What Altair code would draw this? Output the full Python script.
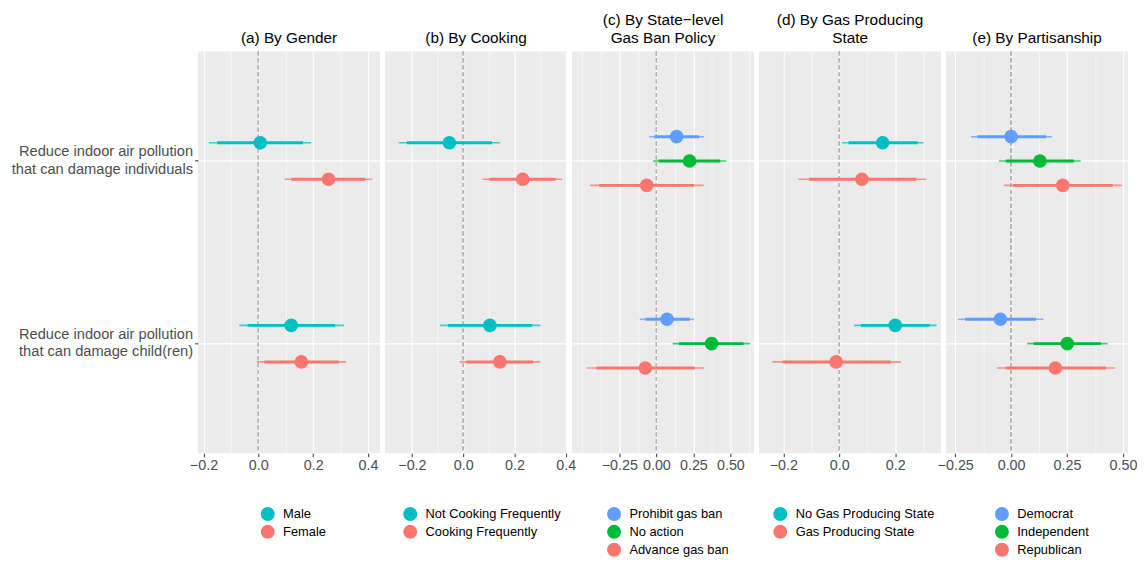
import altair as alt
import pandas as pd

FONT = "Liberation Sans"

outcomes = ["Reduce indoor air pollution\nthat can damage individuals",
            "Reduce indoor air pollution\nthat can damage child(ren)"]

# ---- (a) By Gender ----
a_groups = ["Male", "Female"]
a_est  = [[0.007, 0.256], [0.120, 0.157]]
a_lo95 = [[-0.180, 0.096], [-0.069, -0.005]]
a_hi95 = [[0.193, 0.416], [0.312, 0.320]]
a_lo90 = [[-0.150, 0.121], [-0.039, 0.022]]
a_hi90 = [[0.163, 0.390], [0.280, 0.293]]

# ---- (b) By Cooking ----
b_groups = ["Not Cooking Frequently", "Cooking Frequently"]
b_est  = [[-0.054, 0.232], [0.104, 0.143]]
b_lo95 = [[-0.252, 0.076], [-0.090, -0.014]]
b_hi95 = [[0.144, 0.386], [0.301, 0.301]]
b_lo90 = [[-0.220, 0.102], [-0.059, 0.013]]
b_hi90 = [[0.112, 0.360], [0.269, 0.273]]

# ---- (c) By State-level Gas Ban Policy ----
c_groups = ["Prohibit gas ban", "No action", "Advance gas ban"]
c_est  = [[0.137, 0.224, -0.065], [0.072, 0.373, -0.075]]
c_lo95 = [[-0.048, -0.023, -0.449], [-0.112, 0.110, -0.471]]
c_hi95 = [[0.322, 0.471, 0.319], [0.255, 0.633, 0.322]]
c_lo90 = [[-0.015, 0.015, -0.386], [-0.075, 0.152, -0.404]]
c_hi90 = [[0.289, 0.431, 0.255], [0.226, 0.589, 0.259]]

# ---- (d) By Gas Producing State ----
d_groups = ["No Gas Producing State", "Gas Producing State"]
d_est  = [[0.155, 0.081], [0.200, -0.011]]
d_lo95 = [[0.010, -0.147], [0.053, -0.239]]
d_hi95 = [[0.301, 0.310], [0.348, 0.221]]
d_lo90 = [[0.033, -0.108], [0.077, -0.203]]
d_hi90 = [[0.280, 0.275], [0.323, 0.183]]

# ---- (e) By Partisanship ----
e_groups = ["Democrat", "Independent", "Republican"]
e_est  = [[0.000, 0.129, 0.231], [-0.048, 0.251, 0.198]]
e_lo95 = [[-0.179, -0.054, -0.032], [-0.238, 0.072, -0.064]]
e_hi95 = [[0.182, 0.311, 0.495], [0.144, 0.431, 0.465]]
e_lo90 = [[-0.151, -0.024, 0.008], [-0.206, 0.101, -0.024]]
e_hi90 = [[0.156, 0.281, 0.454], [0.111, 0.402, 0.424]]

TEAL, RED, BLUE, GREEN = "#00BFC4", "#F8766D", "#619CFF", "#00BA38"

panels = [
    dict(title=["", "(a) By Gender"], groups=a_groups, colors=[TEAL, RED],
         est=a_est, lo95=a_lo95, hi95=a_hi95, lo90=a_lo90, hi90=a_hi90,
         domain=[-0.220, 0.444], majors=[-0.2, 0.0, 0.2, 0.4], minors=[-0.1, 0.1, 0.3],
         fmt=".1f", legendX=63),
    dict(title=["", "(b) By Cooking"], groups=b_groups, colors=[TEAL, RED],
         est=b_est, lo95=b_lo95, hi95=b_hi95, lo90=b_lo90, hi90=b_hi90,
         domain=[-0.305, 0.405], majors=[-0.2, 0.0, 0.2, 0.4], minors=[-0.1, 0.1, 0.3],
         fmt=".1f", legendX=18),
    dict(title=["(c) By State\u2212level", "Gas Ban Policy"], groups=c_groups,
         colors=[BLUE, GREEN, RED],
         est=c_est, lo95=c_lo95, hi95=c_hi95, lo90=c_lo90, hi90=c_hi90,
         domain=[-0.570, 0.660], majors=[-0.25, 0.0, 0.25, 0.5],
         minors=[-0.5, -0.375, -0.125, 0.125, 0.375, 0.625],
         fmt=".2f", legendX=35),
    dict(title=["(d) By Gas Producing", "State"], groups=d_groups, colors=[TEAL, RED],
         est=d_est, lo95=d_lo95, hi95=d_hi95, lo90=d_lo90, hi90=d_hi90,
         domain=[-0.287, 0.364], majors=[-0.2, 0.0, 0.2], minors=[-0.1, 0.1, 0.3],
         fmt=".1f", legendX=14),
    dict(title=["", "(e) By Partisanship"], groups=e_groups, colors=[BLUE, GREEN, RED],
         est=e_est, lo95=e_lo95, hi95=e_hi95, lo90=e_lo90, hi90=e_hi90,
         domain=[-0.291, 0.523], majors=[-0.25, 0.0, 0.25, 0.5],
         minors=[-0.125, 0.125, 0.375],
         fmt=".2f", legendX=49),
]

W, H = 184, 406
charts = []
for i, p in enumerate(panels):
    rows = []
    for oi, oc in enumerate(outcomes):
        for gi, g in enumerate(p["groups"]):
            rows.append(dict(outcome=oc, group=g,
                             est=p["est"][oi][gi],
                             lo95=p["lo95"][oi][gi], hi95=p["hi95"][oi][gi],
                             lo90=p["lo90"][oi][gi], hi90=p["hi90"][oi][gi]))
    df = pd.DataFrame(rows)

    majors_int = [int(round(v * 1000)) for v in p["majors"]]
    test = f"indexof({majors_int}, round(datum.value*1000)) >= 0"
    xaxis = alt.Axis(
        title=None, values=sorted(p["majors"] + p["minors"]), format=p["fmt"],
        labelExpr=f"{test} ? datum.label : ''",
        labelOverlap=False, labelFlush=False,
        labelFontSize=14.5, labelColor="#4D4D4D", labelPadding=2,
        domain=False, tickSize=3.5, tickColor="#333333",
        tickOpacity={"condition": {"test": test, "value": 1}, "value": 0},
        grid=True, gridColor="white",
        gridWidth={"condition": {"test": test, "value": 1.1}, "value": 0.55},
    )
    x_scale = alt.Scale(domain=p["domain"], nice=False, zero=False)

    if i == 0:
        yaxis = alt.Axis(title=None, labelExpr="split(datum.label, '\\n')",
                         labelFontSize=14.8, labelColor="#4D4D4D", labelAlign="right",
                         labelLineHeight=18, labelLimit=400, labelPadding=2,
                         labelOffset=-9,
                         tickSize=3.5, tickColor="#333333", domain=False,
                         grid=True, gridColor="white", gridWidth=1.3,
                         bandPosition=0.5)
    else:
        yaxis = alt.Axis(title=None, labels=False, ticks=False, domain=False,
                         grid=True, gridColor="white", gridWidth=1.3,
                         bandPosition=0.5)
    y_enc = alt.Y("outcome:N", axis=yaxis,
                  scale=alt.Scale(domain=outcomes, paddingInner=0.6, paddingOuter=0.4))
    yoff = alt.YOffset("group:N", scale=alt.Scale(domain=p["groups"],
                                                  paddingInner=0, paddingOuter=0))
    color = alt.Color("group:N",
                      scale=alt.Scale(domain=p["groups"], range=p["colors"]),
                      legend=alt.Legend(title=None, orient="none",
                                        legendX=p["legendX"], legendY=460,
                                        direction="vertical", symbolType="circle",
                                        symbolSize=200, symbolStrokeWidth=0,
                                        symbolOpacity=1,
                                        labelFontSize=13, labelColor="black",
                                        labelFont=FONT, labelOffset=8,
                                        rowPadding=3, padding=0))

    base = alt.Chart(df)
    zero = base.mark_rule(color="#B3B3B3", strokeDash=[4, 3], strokeWidth=1).encode(
        x=alt.datum(0, scale=x_scale, axis=xaxis))
    thin = base.mark_rule(strokeWidth=1.6, opacity=0.75).encode(
        x=alt.X("lo95:Q", scale=x_scale, axis=xaxis), x2="hi95:Q",
        y=y_enc, yOffset=yoff, color=color)
    thick = base.mark_rule(strokeWidth=3).encode(
        x=alt.X("lo90:Q", scale=x_scale, axis=xaxis), x2="hi90:Q",
        y=y_enc, yOffset=yoff, color=color)
    pts = base.mark_point(filled=True, size=190, opacity=1, shape="circle").encode(
        x=alt.X("est:Q", scale=x_scale, axis=xaxis),
        y=y_enc, yOffset=yoff, color=color)

    layer = alt.layer(zero, thin, thick, pts).properties(
        width=W, height=H,
        title=alt.TitleParams(text=p["title"], fontSize=15.5, font=FONT,
                              color="black", fontWeight="normal", anchor="middle",
                              offset=5, lineHeight=18),
    )
    charts.append(layer)

chart = alt.hconcat(*charts, spacing=5, bounds="flush").resolve_scale(
    x="independent", y="independent", color="independent", yOffset="independent"
).resolve_legend(color="independent").properties(
    padding={"left": 3, "top": 2, "right": 0, "bottom": 0}
).configure(font=FONT).configure_view(fill="#EBEBEB", stroke=None)

chart.save("out.html", embed_options={"renderer": "svg", "actions": False})
